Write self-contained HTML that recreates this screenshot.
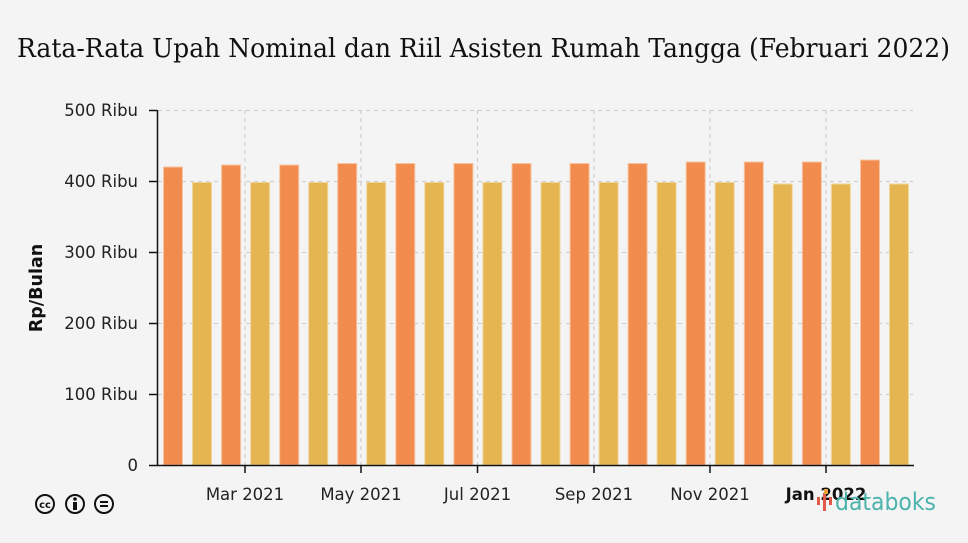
<!DOCTYPE html>
<html><head><meta charset="utf-8"><style>
body{margin:0;background:#f4f4f4;}
svg{display:block;font-family:"DejaVu Sans","Liberation Sans",sans-serif;}
</style></head><body>
<svg width="968" height="543" viewBox="0 0 968 543">
<rect width="968" height="543" fill="#f4f4f4"/>
<text x="17" y="57" textLength="933" lengthAdjust="spacingAndGlyphs" font-family="'DejaVu Serif',serif" font-size="26" fill="#111">Rata-Rata Upah Nominal dan Riil Asisten Rumah Tangga (Februari 2022)</text>
<g stroke="#cfcfcf" stroke-dasharray="4,4" stroke-width="1.2">
<line x1="158" x2="913" y1="110.5" y2="110.5"/><line x1="158" x2="913" y1="181.5" y2="181.5"/><line x1="158" x2="913" y1="252.5" y2="252.5"/><line x1="158" x2="913" y1="323.5" y2="323.5"/><line x1="158" x2="913" y1="394.5" y2="394.5"/>
<line x1="245" x2="245" y1="110" y2="465"/><line x1="361" x2="361" y1="110" y2="465"/><line x1="477.5" x2="477.5" y1="110" y2="465"/><line x1="594" x2="594" y1="110" y2="465"/><line x1="710" x2="710" y1="110" y2="465"/><line x1="826" x2="826" y1="110" y2="465"/>
</g>
<g fill="#f28b4e" stroke="#f7c3a0" stroke-width="1">
<rect x="163.5" y="167" width="19" height="298"/><rect x="221.6" y="165" width="19" height="300"/><rect x="279.7" y="165" width="19" height="300"/><rect x="337.7" y="163.5" width="19" height="301.5"/><rect x="395.8" y="163.5" width="19" height="301.5"/><rect x="453.9" y="163.5" width="19" height="301.5"/><rect x="512" y="163.5" width="19" height="301.5"/><rect x="570.1" y="163.5" width="19" height="301.5"/><rect x="628.1" y="163.5" width="19" height="301.5"/><rect x="686.2" y="162" width="19" height="303"/><rect x="744.3" y="162" width="19" height="303"/><rect x="802.4" y="162" width="19" height="303"/><rect x="860.5" y="160" width="19" height="305"/>
</g>
<g fill="#e5b552" stroke="#f0d69c" stroke-width="1">
<rect x="192.5" y="182.5" width="19" height="282.5"/><rect x="250.6" y="182.5" width="19" height="282.5"/><rect x="308.7" y="182.5" width="19" height="282.5"/><rect x="366.7" y="182.5" width="19" height="282.5"/><rect x="424.8" y="182.5" width="19" height="282.5"/><rect x="482.9" y="182.5" width="19" height="282.5"/><rect x="541" y="182.5" width="19" height="282.5"/><rect x="599.1" y="182.5" width="19" height="282.5"/><rect x="657.1" y="182.5" width="19" height="282.5"/><rect x="715.2" y="182.5" width="19" height="282.5"/><rect x="773.3" y="184" width="19" height="281"/><rect x="831.4" y="184" width="19" height="281"/><rect x="889.5" y="184" width="19" height="281"/>
</g>
<g stroke="#111" stroke-width="1.5">
<line x1="157.5" x2="157.5" y1="110" y2="466"/><line x1="157" x2="914" y1="465.5" y2="465.5"/>
<line x1="149" x2="157" y1="110.5" y2="110.5"/><line x1="149" x2="157" y1="181.5" y2="181.5"/><line x1="149" x2="157" y1="252.5" y2="252.5"/><line x1="149" x2="157" y1="323.5" y2="323.5"/><line x1="149" x2="157" y1="394.5" y2="394.5"/><line x1="149" x2="157" y1="465.5" y2="465.5"/>
<line x1="245" x2="245" y1="465" y2="473"/><line x1="361" x2="361" y1="465" y2="473"/><line x1="477.5" x2="477.5" y1="465" y2="473"/><line x1="594" x2="594" y1="465" y2="473"/><line x1="710" x2="710" y1="465" y2="473"/><line x1="826" x2="826" y1="465" y2="473"/>
</g>
<g font-size="16.5" fill="#222" text-anchor="end">
<text x="138" y="116">500 Ribu</text><text x="138" y="187">400 Ribu</text><text x="138" y="258">300 Ribu</text><text x="138" y="329">200 Ribu</text><text x="138" y="400">100 Ribu</text><text x="138" y="471">0</text>
</g>
<g font-size="16.5" fill="#222" text-anchor="middle">
<text x="245" y="500">Mar 2021</text><text x="361" y="500">May 2021</text><text x="477.5" y="500">Jul 2021</text><text x="594" y="500">Sep 2021</text><text x="710" y="500">Nov 2021</text><text x="826" y="500" font-weight="bold" fill="#111">Jan 2022</text>
</g>
<text transform="translate(42,288) rotate(-90)" text-anchor="middle" font-size="17.5" font-weight="bold" fill="#111">Rp/Bulan</text>
<g fill="none" stroke="#111" stroke-width="2">
<circle cx="45" cy="504" r="9"/><circle cx="75" cy="504" r="9"/><circle cx="104" cy="504" r="9"/>
</g>
<text x="45" y="508" font-size="10" font-weight="bold" text-anchor="middle" fill="#111">cc</text>
<circle cx="75" cy="499" r="1.8" fill="#111"/><rect x="73" y="502" width="4" height="8" fill="#111"/>
<rect x="100" y="501" width="8" height="2" fill="#111"/><rect x="100" y="505" width="8" height="2" fill="#111"/>
<g fill="#e05a47"><rect x="817" y="497" width="3" height="8"/><rect x="823" y="493" width="3" height="18"/><rect x="829" y="497" width="3" height="8"/></g>
<rect x="824" y="489" width="4" height="5" fill="#e8a23a"/>
<text x="835" y="510" font-size="24" textLength="101" lengthAdjust="spacingAndGlyphs" fill="#4bb3ac" font-family="'DejaVu Sans',sans-serif">databoks</text>
</svg>
</body></html>
